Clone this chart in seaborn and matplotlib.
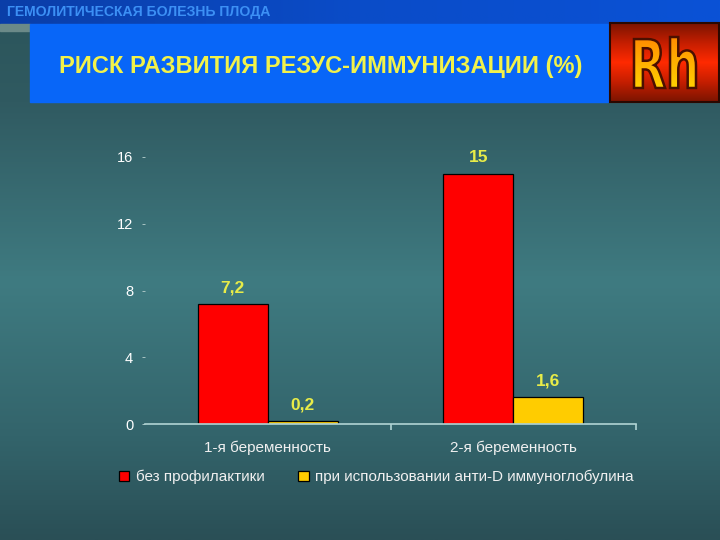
import numpy as np
import pandas as pd
import matplotlib
matplotlib.use("Agg")
import matplotlib.pyplot as plt
import seaborn as sns
from matplotlib.patches import Rectangle, PathPatch
from matplotlib.textpath import TextPath
from matplotlib.font_manager import FontProperties
from matplotlib.transforms import Affine2D
from matplotlib.colors import LinearSegmentedColormap

# ---- data ----
categories = ["1-я беременность", "2-я беременность"]
series_names = ["без профилактики", "при использовании анти-D иммуноглобулина"]
values_no_prophylaxis = [7.2, 15]
values_anti_d = [0.2, 1.6]
value_labels_no = ["7,2", "15"]
value_labels_anti = ["0,2", "1,6"]
y_ticks = [0, 4, 8, 12, 16]

header_text = "ГЕМОЛИТИЧЕСКАЯ БОЛЕЗНЬ ПЛОДА"
title_text = "РИСК РАЗВИТИЯ РЕЗУС-ИММУНИЗАЦИИ (%)"

df = pd.DataFrame({
    "cat": categories * 2,
    "series": [series_names[0]] * 2 + [series_names[1]] * 2,
    "value": values_no_prophylaxis + values_anti_d,
})

sns.set_theme(style="white")
plt.rcParams["font.family"] = ["Liberation Sans", "DejaVu Sans"]

W, H = 720, 540
fig = plt.figure(figsize=(7.2, 5.4), dpi=100)

# ---- background overlay (pixel coordinates, y down) ----
bg = fig.add_axes([0, 0, 1, 1], zorder=0)
bg.set_xlim(0, W)
bg.set_ylim(H, 0)
bg.axis("off")
grad_cmap = LinearSegmentedColormap.from_list(
    "bgc", [(0.0, "#2c565c"), (0.15, "#305a61"), (0.5, "#3f7b81"), (0.8, "#33646b"), (1.0, "#2a4f56")])
grad = np.linspace(0, 1, 256).reshape(-1, 1)
bg.imshow(grad, cmap=grad_cmap, extent=[0, W, H, 24], aspect="auto", zorder=0)
# header strip
hdr_cmap = LinearSegmentedColormap.from_list("hdr", ["#0a3ea8", "#0a4cc8", "#0a52d6"])
bg.imshow(np.linspace(0, 1, 256).reshape(1, -1), cmap=hdr_cmap, extent=[0, W, 24, 0], aspect="auto", zorder=1)
bg.text(7, 12, header_text, color="#3c90f5", fontsize=10.1, fontweight="bold", va="center", ha="left", zorder=3)
# small grey strip at left
bg.add_patch(Rectangle((0, 24), 30, 7, color="#6b8a88", zorder=2))
# title box
bg.add_patch(Rectangle((30, 24), 578, 78, color="#0866f8", zorder=2))
bg.text(321, 66, title_text, color="#f2f24a", fontsize=17, fontweight="bold", ha="center", va="center", zorder=3)

# Rh box
rh_cmap = LinearSegmentedColormap.from_list("rh", ["#7a1400", "#c41e00", "#ff2a00", "#c41e00", "#7a1400"])
bg.imshow(np.linspace(0, 1, 256).reshape(-1, 1), cmap=rh_cmap, extent=[610, 719, 102, 23], aspect="auto", zorder=2)
bg.add_patch(Rectangle((610, 23), 109, 79, fill=False, edgecolor="#2a0800", linewidth=1.5, zorder=3))
tp = TextPath((0, 0), "Rh", size=100, prop=FontProperties(family="DejaVu Sans", weight="bold"))
ext = tp.get_extents()
tx0, tx1, ty0, ty1 = 634, 696, 37, 88
sx = (tx1 - tx0) / ext.width
sy = (ty1 - ty0) / ext.height
trans = Affine2D().translate(-ext.x0, -ext.y0).scale(sx, -sy).translate(tx0, ty1)
rh_path = trans.transform_path(tp)
patch = PathPatch(rh_path, facecolor="none", edgecolor="#4a1000", linewidth=1.8, zorder=5)
bg.add_patch(patch)
txt_cmap = LinearSegmentedColormap.from_list("rht", ["#ff8a00", "#ffb000", "#ffd000"])
im = bg.imshow(np.linspace(0, 1, 256).reshape(-1, 1), cmap=txt_cmap, extent=[tx0, tx1, ty1, ty0],
               aspect="auto", zorder=4)
clip = PathPatch(rh_path, transform=bg.transData, facecolor="none", edgecolor="none")
bg.add_patch(clip)
im.set_clip_path(clip)
bg.set_xlim(0, W)
bg.set_ylim(H, 0)

# ---- chart ----
ax = fig.add_axes([145 / W, 1 - 424 / H, (636 - 145) / W, (424 - 157) / H], zorder=2)
ax.patch.set_alpha(0)
sns.barplot(data=df, x="cat", y="value", hue="series",
            palette=["#ff0000", "#ffcc00"], saturation=1, width=0.57, edgecolor="black", linewidth=0.9,
            ax=ax, legend=True)
ax.set_xlim(-0.5, 1.5)
ax.set_ylim(0, 16)
ax.set_yticks(y_ticks)
ax.set_yticklabels([str(t) for t in y_ticks])
ax.set_xlabel("")
ax.set_ylabel("")
for s in ["top", "right", "left"]:
    ax.spines[s].set_visible(False)
ax.spines["bottom"].set_color("#b0d4d4")
ax.spines["bottom"].set_linewidth(1.2)
ax.tick_params(axis="y", colors="#a8c4c4", labelcolor="white", length=2.5, width=0.7,
               left=True, labelsize=10.5, pad=6)
ax.tick_params(axis="x", length=0, labelcolor="#f0f0f0", labelsize=11, pad=12)
# minor ticks between categories
ax.set_xticks([0.5, 1.5], minor=True)
ax.tick_params(axis="x", which="minor", length=4, width=1.2, color="#b0d4d4", bottom=True)

labels_all = [value_labels_no, value_labels_anti]
for cont, labs in zip(ax.containers, labels_all):
    ax.bar_label(cont, labels=labs, padding=6, color="#e8ec48", fontsize=12.5, fontweight="bold")

handles, lbls = ax.get_legend_handles_labels()
ax.legend_.remove()
leg = fig.legend(handles, lbls, loc="center", bbox_to_anchor=(376 / W, 1 - 477 / H), ncol=2,
                 frameon=False, fontsize=11, handlelength=0.7, handleheight=0.7, handletextpad=0.4,
                 columnspacing=2.2, labelcolor="#f0f0f0")

fig.savefig("out.png", dpi=100)
